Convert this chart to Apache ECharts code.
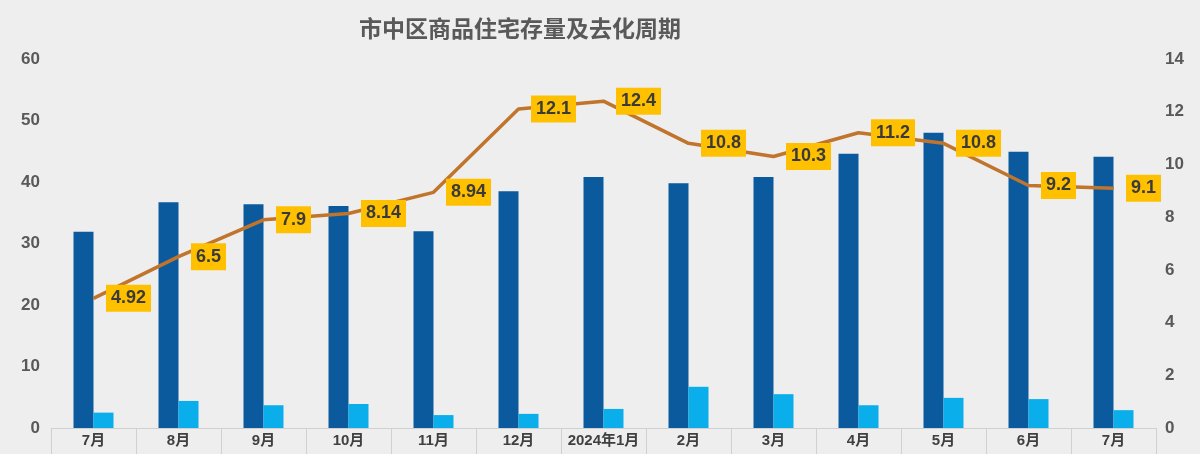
<!DOCTYPE html>
<html><head><meta charset="utf-8">
<script src="https://cdn.jsdelivr.net/npm/echarts@6/dist/echarts.min.js"></script>
<style>html,body{margin:0;padding:0;background:#eeeeee}#c{width:1200px;height:454px}</style>
</head><body><div id="c"></div>
<script>
const categories = ['7月','8月','9月','10月','11月','12月','2024年1月','2月','3月','4月','5月','6月','7月'];
const stockValues = [31.9, 36.7, 36.4, 36.1, 32.0, 38.5, 40.8, 39.8, 40.8, 44.6, 48.0, 44.9, 44.1];
const salesValues = [2.5, 4.4, 3.7, 3.9, 2.1, 2.3, 3.1, 6.7, 5.5, 3.7, 4.9, 4.7, 2.9];
const cycleValues = [4.92, 6.5, 7.9, 8.14, 8.94, 12.1, 12.4, 10.8, 10.3, 11.2, 10.8, 9.2, 9.1];
const titleText = '市中区商品住宅存量及去化周期';

const FONT = "'Liberation Sans','Noto Sans CJK SC',sans-serif";
const chart = echarts.init(document.getElementById('c'), null, {renderer:'canvas'});
chart.setOption({
  backgroundColor: '#eeeeee',
  animation: false,
  title: {
    text: titleText, left: 515, top: 12, textAlign: 'center',
    textStyle: {fontFamily: "'Noto Sans CJK SC',sans-serif", fontSize: 23, fontWeight: 'bold', color: '#595959'}
  },
  grid: {left: 51, right: 44, top: 59, bottom: 26, containLabel: false},
  xAxis: {
    type: 'category', data: categories,
    axisLine: {lineStyle: {color: '#d0d0d0', width: 1}},
    axisTick: {show: true, length: 26, lineStyle: {color: '#d0d0d0'}},
    axisLabel: {fontFamily: FONT, fontSize: 15, fontWeight: 'bold', color: '#404040', margin: 5, interval: 0}
  },
  yAxis: [
    {type: 'value', min: 0, max: 60, interval: 10, splitLine: {show: false},
     axisLine: {show: false}, axisTick: {show: false},
     axisLabel: {fontFamily: FONT, fontSize: 17, fontWeight: 'bold', color: '#595959', margin: 11}},
    {type: 'value', min: 0, max: 14, interval: 2, splitLine: {show: false},
     axisLine: {show: false}, axisTick: {show: false},
     axisLabel: {fontFamily: FONT, fontSize: 17, fontWeight: 'bold', color: '#595959', margin: 9}}
  ],
  series: [
    {name: '存量', type: 'bar', data: stockValues, barWidth: 20, barGap: '0%',
     itemStyle: {color: '#0B5A9D'}},
    {name: '成交', type: 'bar', data: salesValues, barWidth: 20, barGap: '0%',
     itemStyle: {color: '#0AAEEA'}},
    {name: '去化周期', type: 'line', yAxisIndex: 1, data: cycleValues,
     symbol: 'circle', symbolSize: 1, showSymbol: true, showAllSymbol: true, z: 5,
     itemStyle: {color: '#C0742C'},
     lineStyle: {color: '#C0742C', width: 3.5},
     label: {show: true, position: 'right', distance: 12, fontFamily: FONT, fontSize: 18, fontWeight: 'bold',
       color: '#3a3a3a', backgroundColor: '#FFC000', padding: [5, 5, 4, 5]}}
  ]
});
</script></body></html>
